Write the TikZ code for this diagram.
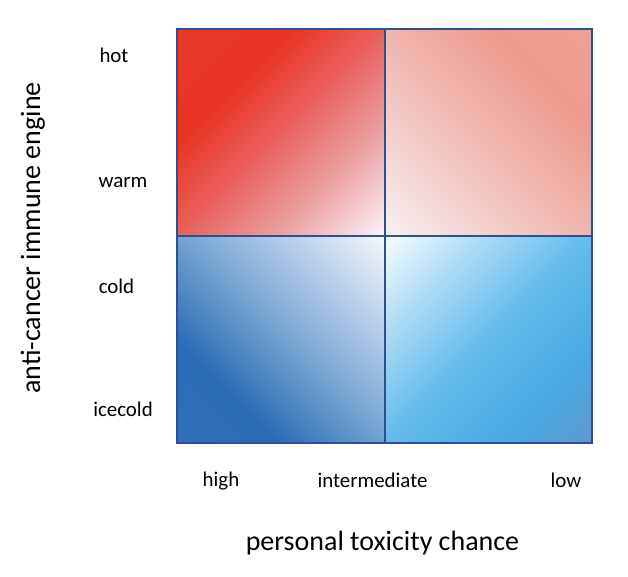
\documentclass[tikz,border=0pt]{standalone}
\usepackage{fontspec}
\setmainfont{Carlito}
\usepackage{tikz}
\usetikzlibrary{positioning,calc}

\definecolor{frame}{RGB}{47,80,143}
% hot corner (top left)
\definecolor{hotA}{RGB}{233,57,44}
\definecolor{hotB}{RGB}{233,51,35}
\definecolor{hotC}{RGB}{232,98,92}
\definecolor{hotD}{RGB}{235,163,166}
\definecolor{hotE}{RGB}{250,245,248}
% warm corner (top right)
\definecolor{warmA}{RGB}{240,160,148}
\definecolor{warmB}{RGB}{240,154,142}
\definecolor{warmC}{RGB}{240,181,174}
\definecolor{warmD}{RGB}{242,210,207}
\definecolor{warmE}{RGB}{248,240,242}
% icecold corner (bottom left)
\definecolor{iceA}{RGB}{48,112,186}
\definecolor{iceB}{RGB}{43,108,184}
\definecolor{iceC}{RGB}{112,162,210}
\definecolor{iceD}{RGB}{181,204,230}
\definecolor{iceE}{RGB}{244,247,252}
% cold corner (bottom right)
\definecolor{coldA}{RGB}{96,152,208}
\definecolor{coldB}{RGB}{72,169,228}
\definecolor{coldC}{RGB}{98,188,236}
\definecolor{coldD}{RGB}{168,218,244}
\definecolor{coldE}{RGB}{248,251,254}

\pgfdeclarehorizontalshading{hotfade}{100bp}{color(0bp)=(hotA); color(14.6bp)=(hotA);
  color(34bp)=(hotB); color(50bp)=(hotC); color(67.7bp)=(hotD); color(85.4bp)=(hotE); color(100bp)=(hotE)}
\pgfdeclarehorizontalshading{warmfade}{100bp}{color(0bp)=(warmA); color(14.6bp)=(warmA);
  color(32bp)=(warmB); color(50bp)=(warmC); color(67.7bp)=(warmD); color(85.4bp)=(warmE); color(100bp)=(warmE)}
\pgfdeclarehorizontalshading{icefade}{100bp}{color(0bp)=(iceA); color(14.6bp)=(iceA);
  color(32bp)=(iceB); color(50bp)=(iceC); color(67.7bp)=(iceD); color(85.4bp)=(iceE); color(100bp)=(iceE)}
\pgfdeclarehorizontalshading{coldfade}{100bp}{color(0bp)=(coldA); color(14.6bp)=(coldA);
  color(30bp)=(coldB); color(50bp)=(coldC); color(67.7bp)=(coldD); color(85.4bp)=(coldE); color(100bp)=(coldE)}

\begin{document}
\begin{tikzpicture}[x=1pt,y=1pt,
 lab/.style={inner sep=0pt,anchor=base,font=\fontsize{20.9}{25}\selectfont},
 ttl/.style={inner sep=0pt,anchor=base,font=\fontsize{28}{33}\selectfont},
 grid/.style={draw=frame,line width=2pt}]
\useasboundingbox (0,0) rectangle (628,576);
\coordinate (sw) at (177,133);
\coordinate (ne) at (592,547);
\coordinate (mid) at (385,340);
% quadrants
\shade[shading=hotfade,shading angle=-45] (sw|-mid) rectangle (mid|-ne);
\shade[shading=warmfade,shading angle=225] (mid) rectangle (ne);
\shade[shading=icefade,shading angle=45] (sw) rectangle (mid);
\shade[shading=coldfade,shading angle=135] (mid|-sw) rectangle (ne|-mid);
\draw[grid] (sw) rectangle (ne);
\draw[grid] (mid|-sw) -- (mid|-ne);
\draw[grid] (sw|-mid) -- (ne|-mid);
% immune levels
\node[lab] (hot) at (114,513) {hot};
\node[lab] (warm) at (123,388) {warm};
\node[lab] (cold) at (116.5,283) {cold};
\node[lab] (icecold) at (123,160) {icecold};
% toxicity levels
\node[lab] (high) at (221,90) {high};
\node[lab] (inter) at (372.5,89) {intermediate};
\node[lab] (low) at (566,89) {low};
% axis titles
\node[ttl] (xtitle) at (382.5,26) {personal toxicity chance};
\node[ttl,rotate=90] (ytitle) at (40,338) {anti-cancer immune engine};
\end{tikzpicture}
\end{document}
